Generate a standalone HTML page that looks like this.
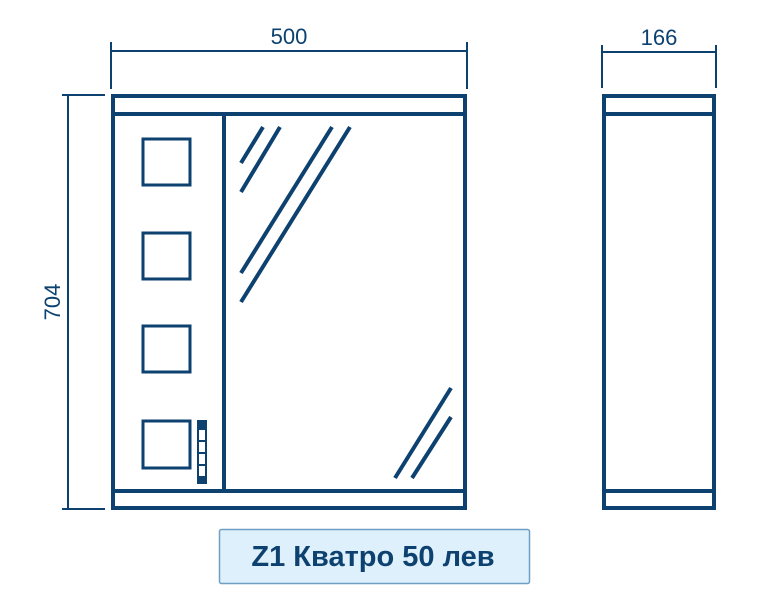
<!DOCTYPE html>
<html><head><meta charset="utf-8"><style>
html,body{margin:0;padding:0;background:#fff;width:758px;height:600px;overflow:hidden}
</style></head><body>
<svg width="758" height="600" viewBox="0 0 758 600" xmlns="http://www.w3.org/2000/svg">
<g stroke="#0d416f" fill="none">
 <g stroke-width="2">
  <line x1="111" y1="51" x2="467" y2="51"/>
  <line x1="111" y1="42" x2="111" y2="89"/>
  <line x1="467" y1="42" x2="467" y2="89"/>
  <line x1="68" y1="95" x2="68" y2="509"/>
  <line x1="62" y1="95" x2="105" y2="95"/>
  <line x1="62" y1="509" x2="105" y2="509"/>
  <line x1="602" y1="52" x2="716" y2="52"/>
  <line x1="602" y1="45" x2="602" y2="88"/>
  <line x1="716" y1="45" x2="716" y2="88"/>
 </g>
 <g stroke-width="4">
  <rect x="113" y="96" width="352" height="412"/>
  <line x1="113" y1="114" x2="465" y2="114"/>
  <line x1="113" y1="491" x2="465" y2="491"/>
  <line x1="224" y1="114" x2="224" y2="491"/>
 </g>
 <g stroke-width="3">
  <rect x="143" y="139" width="47" height="46"/>
  <rect x="143" y="233" width="47" height="46"/>
  <rect x="143" y="326" width="47" height="46"/>
  <rect x="143" y="421" width="47" height="47"/>
 </g>
 <rect x="197" y="420" width="10" height="64" fill="#0d416f" stroke="none"/>
 <g fill="#fff" stroke="none">
  <rect x="199" y="430" width="6" height="10"/>
  <rect x="199" y="442" width="6" height="10"/>
  <rect x="199" y="454" width="6" height="10"/>
  <rect x="199" y="466" width="6" height="10"/>
 </g>
 <g stroke-width="4">
  <line x1="241" y1="163" x2="263" y2="127"/>
  <line x1="241" y1="192" x2="280" y2="127"/>
  <line x1="241" y1="273" x2="332" y2="127"/>
  <line x1="241" y1="302" x2="350" y2="127"/>
  <line x1="395" y1="478" x2="451" y2="388"/>
  <line x1="412" y1="478" x2="451" y2="417"/>
 </g>
 <g stroke-width="4">
  <rect x="604" y="96" width="110" height="412"/>
  <line x1="604" y1="114" x2="714" y2="114"/>
  <line x1="604" y1="491" x2="714" y2="491"/>
 </g>
</g>
<g fill="#0d416f" font-family="Liberation Sans, sans-serif" font-size="22">
 <text x="289" y="44" text-anchor="middle">500</text>
 <text x="659" y="45" text-anchor="middle">166</text>
 <text transform="translate(60,302) rotate(-90)" text-anchor="middle">704</text>
</g>
<rect x="219.5" y="529.5" width="310" height="54" fill="#def0fb" stroke="#6f9fc4" stroke-width="1.5" rx="2"/>
<text x="373" y="566" text-anchor="middle" font-family="Liberation Sans, sans-serif" font-weight="bold" font-size="29" fill="#0d416f">Z1 Кватро 50 лев</text>
</svg>
</body></html>
